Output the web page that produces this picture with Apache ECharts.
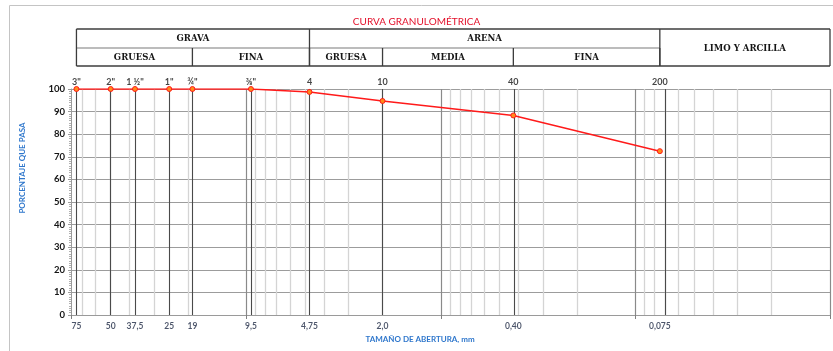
<!DOCTYPE html>
<html><head><meta charset="utf-8">
<script src="https://cdn.jsdelivr.net/npm/echarts@6/dist/echarts.min.js"></script>
<style>html,body{margin:0;padding:0;background:#fff;overflow:hidden}#c{width:833px;height:351px}</style>
</head><body><div id="c"></div>
<script>
// ---- data ----
const sieveSizes = [75, 50, 37.5, 25, 19, 9.5, 4.75, 2.0, 0.425, 0.075];
const percentPassing = [100, 100, 100, 100, 100, 100, 98.7, 94.7, 88.3, 72.5];
const sieveNames = ['3"', '2"', '1 ½"', '1"', '¾"', '⅜"', '4', '10', '40', '200'];
const sizeLabels = ['75', '50', '37,5', '25', '19', '9,5', '4,75', '2,0', '0,40', '0,075'];
const minorGridValues = [70, 60, 50, 40, 30, 20, 9, 8, 7, 6, 5, 4, 3, 2, 0.9, 0.8, 0.7, 0.6, 0.5, 0.4, 0.3, 0.2, 0.09, 0.08, 0.07, 0.06, 0.05, 0.04, 0.03, 0.02];
const decadeGridValues = [10, 1, 0.1, 0.01];
const xMin = 0.01, xMax = 80;
const yMin = 0, yMax = 100, yStep = 10;
// classification table: [label, from size, to size]
const tableTopRow = [['GRAVA', 75, 4.75], ['ARENA', 4.75, 0.075]];
const tableSubRow = [['GRUESA', 75, 19], ['FINA', 19, 4.75], ['GRUESA', 4.75, 2.0], ['MEDIA', 2.0, 0.425], ['FINA', 0.425, 0.075]];
const tableFullCell = ['LIMO Y ARCILLA', 0.075, 0.01];
const titleText = 'CURVA GRANULOMÉTRICA';
const xName = 'TAMAÑO DE ABERTURA, mm';
const yName = 'PORCENTAJE QUE PASA';

const chart = echarts.init(document.getElementById('c'), null, {renderer: 'canvas'});
const tickFont = {fontFamily: 'Lato', fontWeight: 'bold', fontSize: 9.5, color: '#141414'};

const vLine = (v, color, width) => ({xAxis: v, lineStyle: {color: color, width: width, type: 'solid'}});

chart.setOption({
  animation: false,
  title: {text: titleText, left: 'center', top: 12, textStyle: {fontFamily: 'Lato', fontSize: 10, fontWeight: 'normal', color: '#e3102a'}},
  grid: {left: 71, right: 3, top: 89, bottom: 36},
  xAxis: {
    type: 'log', logBase: 10, min: xMin, max: xMax, inverse: true,
    axisLine: {show: true, onZero: false, lineStyle: {color: '#9a9a9a', width: 1}},
    axisTick: {show: true, length: 4, lineStyle: {color: '#808080'}},
    axisLabel: {show: false},
    splitLine: {show: false}
  },
  yAxis: {
    type: 'value', min: yMin, max: yMax, interval: yStep,
    axisLine: {show: true, lineStyle: {color: '#9a9a9a'}},
    axisTick: {show: true, length: 3, lineStyle: {color: '#9a9a9a'}},
    minorTick: {show: true, splitNumber: 10, length: 2, lineStyle: {color: '#b0b0b0'}},
    axisLabel: Object.assign({margin: 6}, tickFont),
    splitLine: {show: true, lineStyle: {color: '#9c9c9c', width: 1.2}}
  },
  series: [
    {
      type: 'line', z: 1, silent: true, symbol: 'none',
      data: [[1, 50]], lineStyle: {opacity: 0},
      markLine: {
        silent: true, symbol: 'none', label: {show: false}, animation: false,
        data: [].concat(
          minorGridValues.map(v => vLine(v, '#d4d4d4', 1.3)),
          decadeGridValues.map(v => vLine(v, '#8a8a8a', 1.2)),
          sieveSizes.map(v => vLine(v, '#4a4a4a', 1.1))
        )
      }
    },
    {
      type: 'line', z: 5, name: 'curva',
      data: sieveSizes.map((s, i) => [s, percentPassing[i]]),
      symbol: 'circle', symbolSize: 5,
      lineStyle: {color: '#ff1a1a', width: 1.5},
      itemStyle: {color: '#ff8c1a', borderColor: '#ff1a1a', borderWidth: 1}
    },
    {
      type: 'scatter', z: 4, silent: true, symbolSize: 1,
      itemStyle: {color: 'rgba(0,0,0,0)'},
      data: sieveSizes.map(s => [s, yMax]),
      label: {show: true, position: 'top', distance: 2, formatter: p => sieveNames[p.dataIndex],
        fontFamily: 'Lato', fontWeight: 'bold', fontSize: 9, color: '#141414'}
    },
    {
      type: 'scatter', z: 4, silent: true, symbolSize: 1,
      itemStyle: {color: 'rgba(0,0,0,0)'},
      data: sieveSizes.map(s => [s, yMin]),
      label: {show: true, position: 'bottom', distance: 6, formatter: p => sizeLabels[p.dataIndex],
        fontFamily: 'Lato', fontWeight: 'bold', fontSize: 8.5, color: '#1f2b45'}
    }
  ]
});

// ---- decorations positioned from the axis scale ----
const px = v => chart.convertToPixel({xAxisIndex: 0}, v);
const rowTop = 29, rowMid = 48, rowBot = 66;
const lineColor = '#3c3c3c';
const tFont = {fontFamily: '"DejaVu Serif Condensed", "Liberation Serif", serif', fontWeight: 'bold', fontSize: 9.5, fill: '#161616'};
const g = [];
const hline = (x1, x2, y, c, w) => g.push({type: 'line', shape: {x1: x1, y1: y, x2: x2, y2: y}, style: {stroke: c, lineWidth: w}, silent: true});
const vline = (x, y1, y2, c, w) => g.push({type: 'line', shape: {x1: x, y1: y1, x2: x, y2: y2}, style: {stroke: c, lineWidth: w}, silent: true});
const txt = (t, x, y) => g.push({type: 'text', x: x, y: y, style: Object.assign({text: t, align: 'center', verticalAlign: 'middle'}, tFont), silent: true});

const L = px(tableTopRow[0][1]), R = px(tableFullCell[2]), LM = px(tableFullCell[1]);
hline(L, R, rowTop, lineColor, 1.3);
hline(L, R, rowBot, lineColor, 1.3);
hline(L, LM, rowMid, '#7a7a7a', 1.2);
vline(L, rowTop, rowBot, lineColor, 1.3);
vline(R, rowTop, rowBot, lineColor, 1.3);
tableTopRow.forEach(c => { vline(px(c[2]), rowTop, rowBot, lineColor, 1.3); txt(c[0], (px(c[1]) + px(c[2])) / 2, (rowTop + rowMid) / 2 + 0.5); });
tableSubRow.forEach(c => { vline(px(c[2]), rowMid, rowBot, lineColor, 1.3); txt(c[0], (px(c[1]) + px(c[2])) / 2, (rowMid + rowBot) / 2 + 1); });
txt(tableFullCell[0], (px(tableFullCell[1]) + px(tableFullCell[2])) / 2, (rowTop + rowBot) / 2 + 1);

// outer chart frame (cut by the page edge)
g.push({type: 'rect', shape: {x: 9.5, y: 5.5, width: 900, height: 400}, style: {fill: 'none', stroke: '#c4c4c4', lineWidth: 1}, silent: true});

// axis names
const axFont = {fontFamily: 'Lato', fontWeight: 'bold', fontSize: 8, fill: '#2f77cc'};
g.push({type: 'text', x: 420, y: 339, style: Object.assign({text: xName, align: 'center', verticalAlign: 'middle'}, axFont), silent: true});
g.push({type: 'text', x: 22, y: 168, rotation: Math.PI / 2, style: Object.assign({text: yName, align: 'center', verticalAlign: 'middle'}, axFont), silent: true});

chart.setOption({graphic: {elements: g}});
</script>
</body></html>
